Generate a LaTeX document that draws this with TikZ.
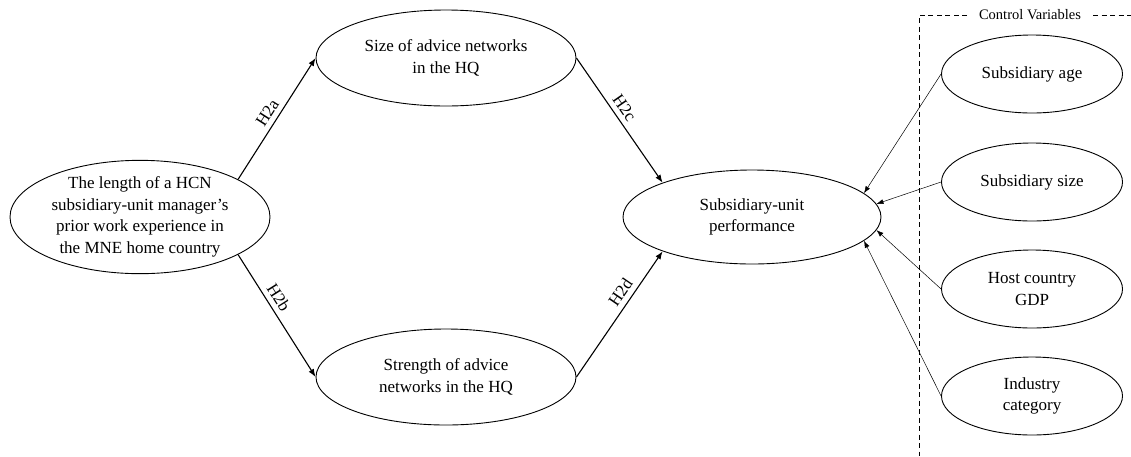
\documentclass[tikz,border=0pt]{standalone}
\usepackage{fontspec}
\setmainfont{Liberation Serif}
\usetikzlibrary{arrows.meta,shapes.geometric}
\begin{document}
\begin{tikzpicture}[x=1pt,y=-1pt,
  var/.style={draw,ellipse,line width=0.9pt,inner sep=0pt,align=center,
    font=\fontsize{17}{21.5}\selectfont},
  mainvar/.style={var,minimum width=260pt,minimum height=96pt},
  ctrlvar/.style={var,minimum width=181pt,minimum height=78pt},
  hyp/.style={-{Latex[length=8pt,width=6pt]},line width=1.1pt},
  ctrl/.style={-{Latex[length=7pt,width=5pt]},line width=0.5pt},
  hlabel/.style={font=\fontsize{17}{20}\selectfont,sloped,above,inner sep=5pt},
  frame/.style={dashed,line width=0.9pt,dash pattern=on 5pt off 3.5pt}]
\useasboundingbox (0,0) rectangle (1131,456);

% main constructs
\node[mainvar,minimum height=98pt] (exp) at (140,217)
  {The length of a HCN\\subsidiary-unit manager's\\prior work experience in\\the MNE home country};
\node[mainvar] (size) at (446,58) {Size of advice networks\\in the HQ};
\node[mainvar] (strength) at (446,377) {Strength of advice\\networks in the HQ};
\node[mainvar,minimum width=258pt,minimum height=94pt] (perf) at (752,217)
  {Subsidiary-unit\\performance};

% control variables
\node[ctrlvar] (age) at (1032,74) {Subsidiary age};
\node[ctrlvar] (ssize) at (1032,182) {Subsidiary size};
\node[ctrlvar] (gdp) at (1032,289) {Host country\\GDP};
\node[ctrlvar] (ind) at (1032,396) {Industry\\category};

% control-variable frame
\coordinate (fcorner) at (919,15);
\coordinate (fbottom) at (919,456);
\coordinate (fleft) at (967,15);
\coordinate (fright) at (1093,15);
\coordinate (fend) at (1131,15);
\draw[frame] (fleft) -- (fcorner) -- (fbottom);
\draw[frame] (fright) -- (fend);
\node[font=\fontsize{14.5}{17}\selectfont,inner sep=0pt] (ctitle) at (1030,15) {Control Variables};

% hypotheses
\draw[hyp] (exp.21) -- node[hlabel] {H2a} (size.west);
\draw[hyp] (size.east) -- node[hlabel,pos=0.45] {H2c} (perf.159);
\draw[hyp] (exp.-21) -- node[hlabel,pos=0.4] {H2b} (strength.west);
\draw[hyp] (strength.east) -- node[hlabel,pos=0.62] {H2d} (perf.-159);

% control effects
\draw[ctrl] (age.west) -- (perf.12);
\draw[ctrl] (ssize.west) -- (perf.6);
\draw[ctrl] (gdp.west) -- (perf.-6);
\draw[ctrl] (ind.west) -- (perf.-12);
\end{tikzpicture}
\end{document}
